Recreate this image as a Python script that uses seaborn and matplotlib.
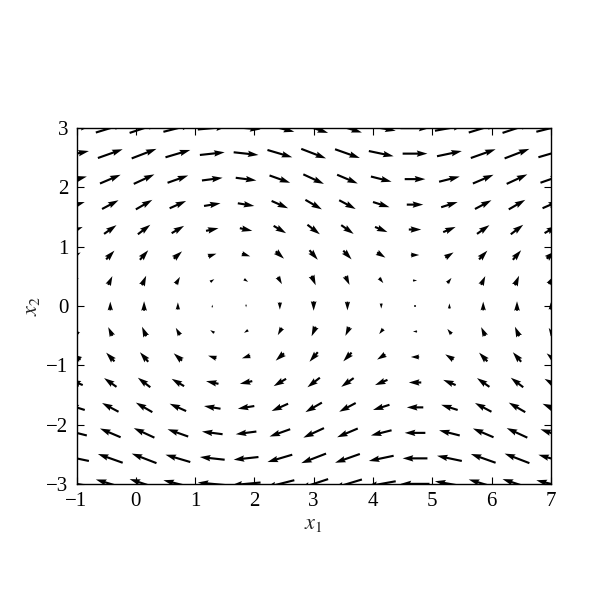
import numpy as np
import matplotlib
matplotlib.use('Agg')
import matplotlib.pyplot as plt
import seaborn as sns

# grid of arrow positions
x1_pos = [-1.0, -0.43, 0.14, 0.71, 1.29, 1.86, 2.43, 3.0, 3.57, 4.14, 4.71, 5.29, 5.86, 6.43, 7.0]
x2_pos = [-3.0, -2.57, -2.14, -1.71, -1.29, -0.86, -0.43, 0.0, 0.43, 0.86, 1.29, 1.71, 2.14, 2.57, 3.0]

# horizontal component, one value per row (x2)
u_row = [-3.0, -2.57, -2.14, -1.71, -1.29, -0.86, -0.43, 0.0, 0.43, 0.86, 1.29, 1.71, 2.14, 2.57, 3.0]
# vertical component, one value per column (x1)
v_col = [0.54, 0.91, 0.99, 0.76, 0.28, -0.28, -0.76, -0.99, -0.91, -0.54, 0.0, 0.54, 0.91, 0.99, 0.75]

sns.set_style('ticks')
plt.rcParams['font.family'] = ['Liberation Serif', 'DejaVu Serif']
plt.rcParams['mathtext.fontset'] = 'stix'
plt.rcParams['xtick.direction'] = 'in'
plt.rcParams['ytick.direction'] = 'in'
plt.rcParams['xtick.top'] = True
plt.rcParams['ytick.right'] = True

X1, X2 = np.meshgrid(x1_pos, x2_pos)
U = np.tile(np.array(u_row)[:, None], (1, len(x1_pos)))
V = np.tile(np.array(v_col)[None, :], (len(x2_pos), 1))

fig = plt.figure(figsize=(6.12, 6.12), dpi=100)
ax = fig.add_axes([0.125, 0.1, 0.775, 0.8])
ax.quiver(X1, X2, U, V, color='black', pivot='middle', width=0.0045)
ax.set_xlim(-1, 7)
ax.set_ylim(-3, 3)
ax.set_aspect('equal')
ax.set_xticks(range(-1, 8))
ax.set_yticks(range(-3, 4))
ax.tick_params(labelsize=15, length=5, width=0.8, colors='black', pad=6)
for s in ax.spines.values():
    s.set_linewidth(1.0)
    s.set_color('black')
ax.set_xlabel('$x_1$', fontsize=16, labelpad=3)
ax.set_ylabel('$x_2$', fontsize=16, labelpad=3)

fig.savefig('out.png', dpi=100)
